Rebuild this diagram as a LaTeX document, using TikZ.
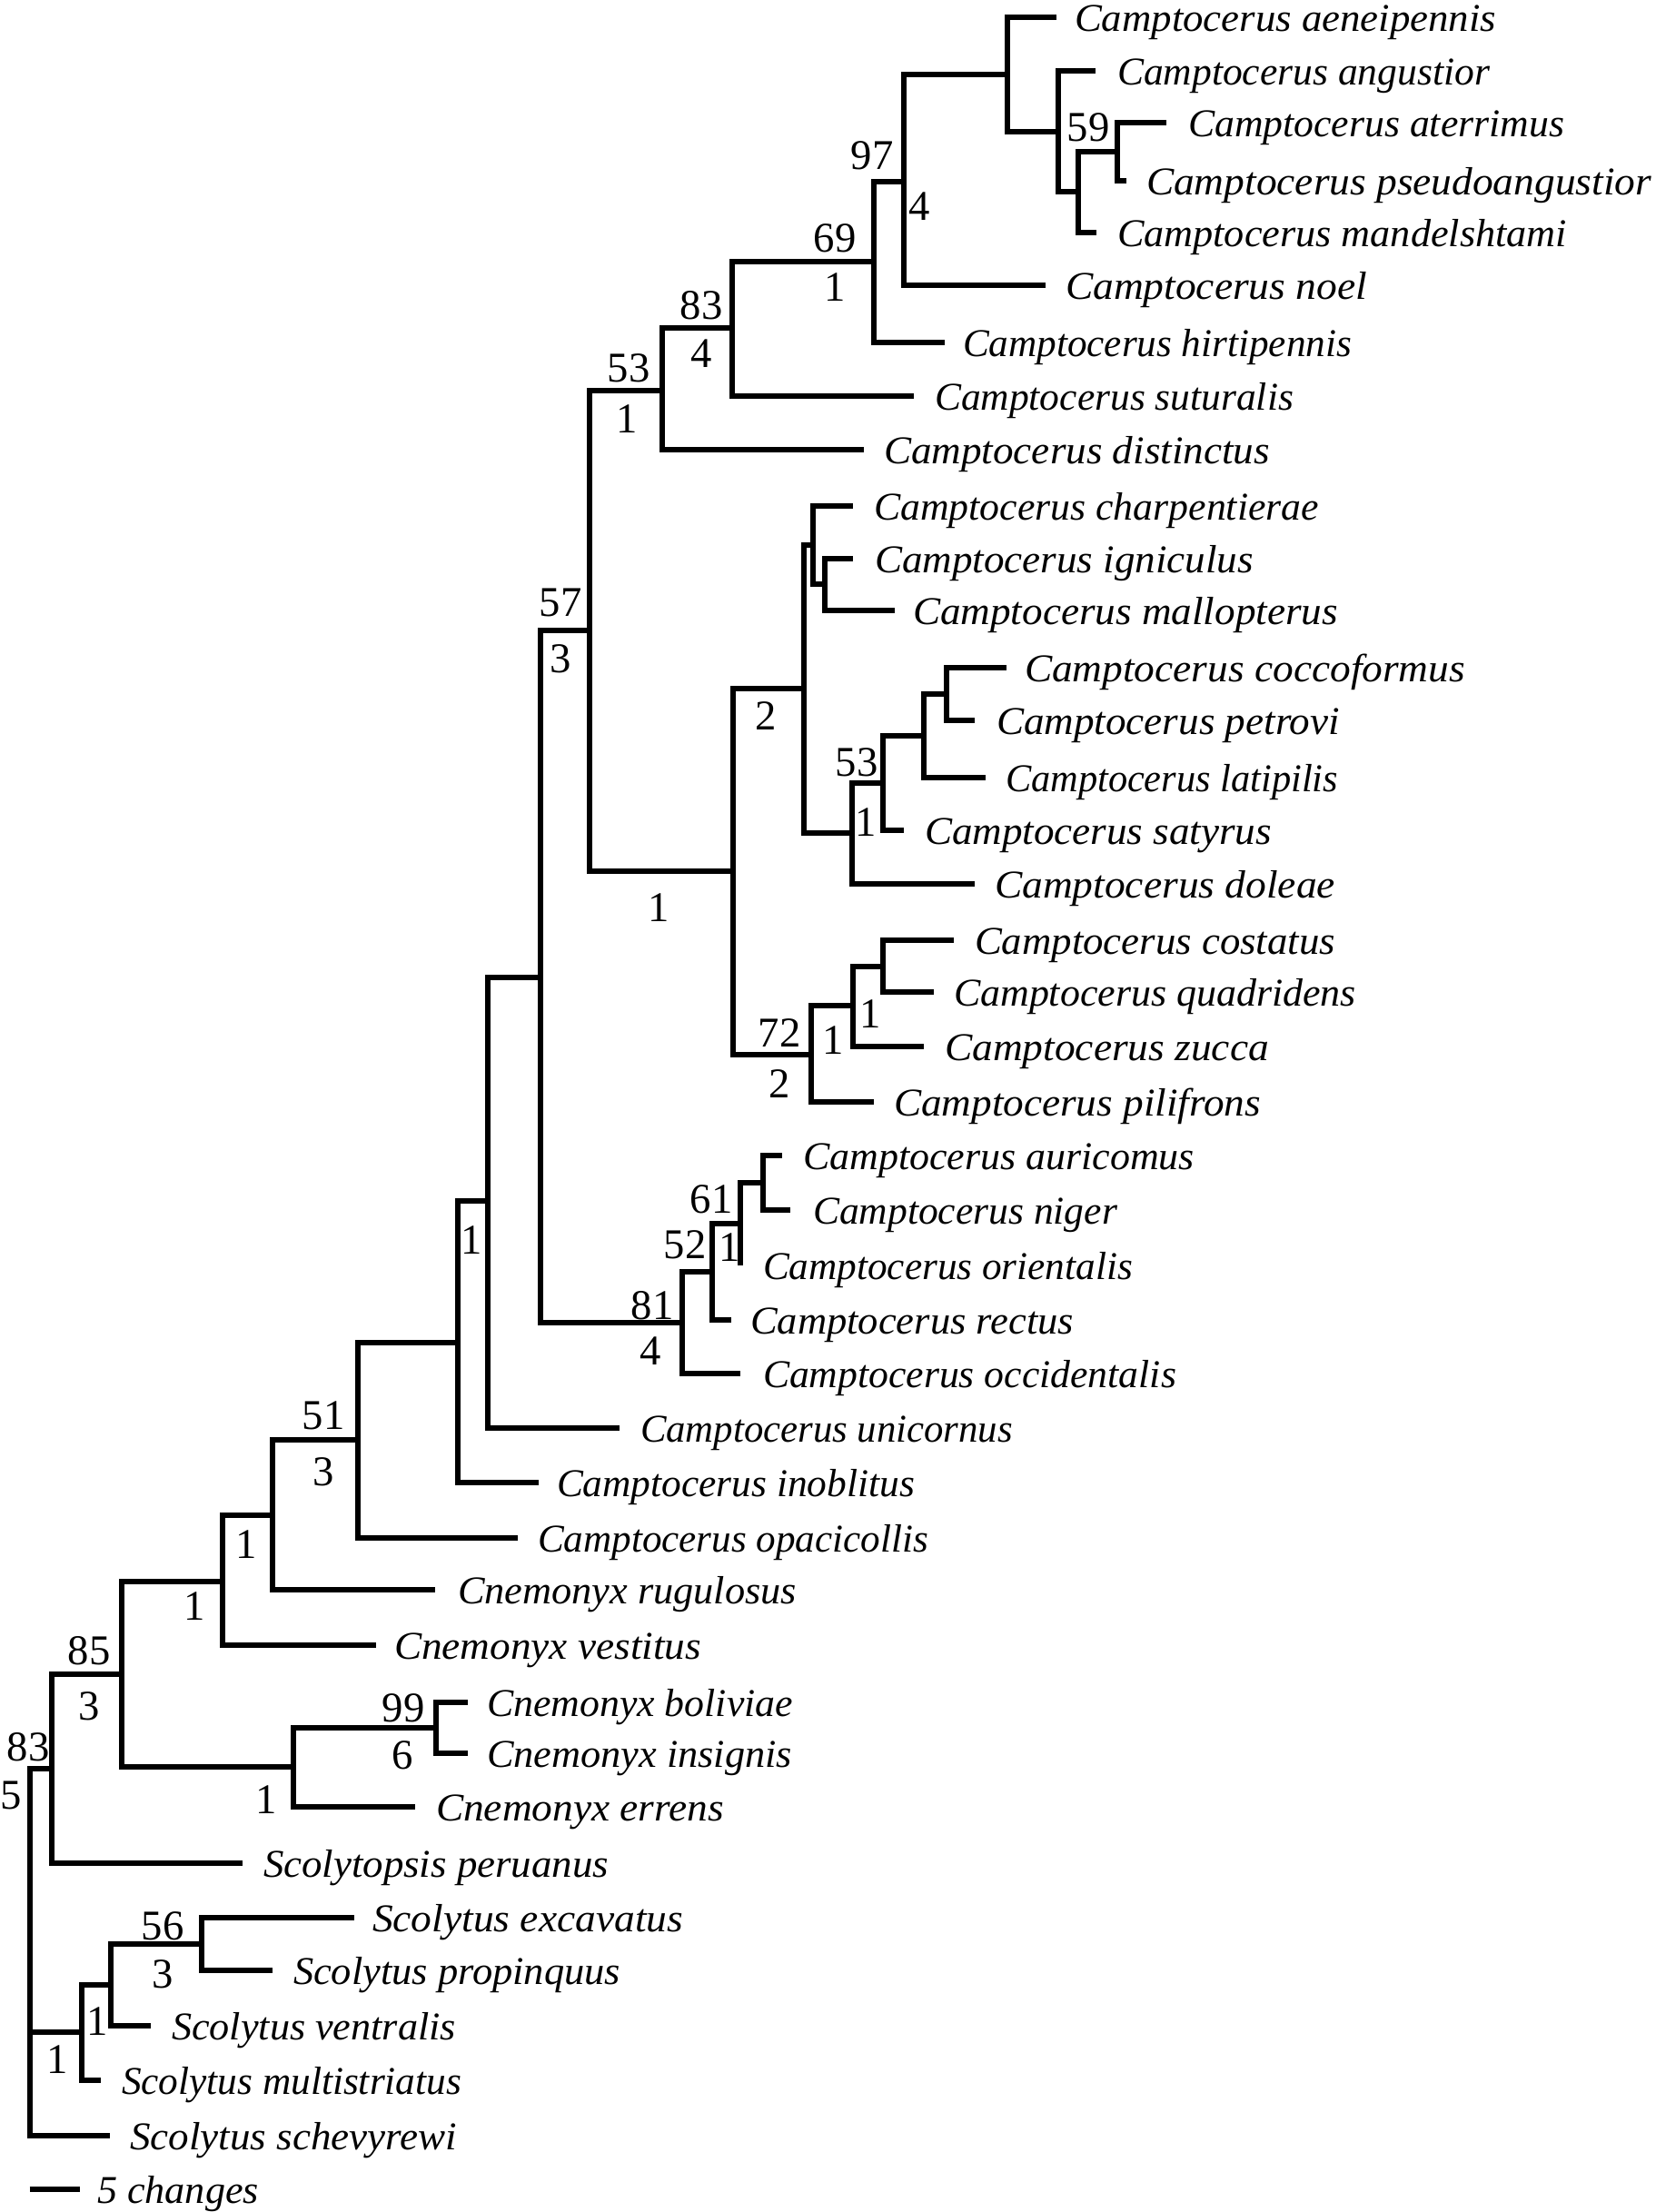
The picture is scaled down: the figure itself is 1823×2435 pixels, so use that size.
\documentclass[tikz,border=0pt]{standalone}
\usepackage{fontspec}
\setmainfont{Liberation Serif}
\usepackage{graphicx}
\newdimen\pxu
\pxu=0.3pt
\newcommand{\taxlab}[2]{\resizebox{#1\pxu}{\height}{\itshape #2}}
\tikzset{
  br/.style={line width=1.8pt, line join=miter, line cap=butt},
  tax/.style={anchor=base west, inner sep=0pt, outer sep=0pt, font=\fontsize{13}{15}\selectfont},
  num/.style={inner sep=0pt, outer sep=0pt, font=\fontsize{14}{16}\selectfont}
}
\begin{document}
\begin{tikzpicture}[x=0.3pt,y=-0.3pt]
\useasboundingbox (0,0) rectangle (1823,2435);
% ---- leaf tips
\coordinate (t1) at (1163,19);
\coordinate (t2) at (1206,78);
\coordinate (t3) at (1284,135);
\coordinate (t4) at (1240,199);
\coordinate (t5) at (1207,256);
\coordinate (t6) at (1151,314);
\coordinate (t7) at (1040,377);
\coordinate (t8) at (1006,436);
\coordinate (t9) at (951,495);
\coordinate (t10) at (939,557);
\coordinate (t11) at (939,615);
\coordinate (t12) at (985,672);
\coordinate (t13) at (1108,735);
\coordinate (t14) at (1073,793);
\coordinate (t15) at (1085,856);
\coordinate (t16) at (995,914);
\coordinate (t17) at (1073,973);
\coordinate (t18) at (1050,1035);
\coordinate (t19) at (1028,1092);
\coordinate (t20) at (1017,1152);
\coordinate (t21) at (962,1213);
\coordinate (t22) at (861,1272);
\coordinate (t23) at (870,1332);
\coordinate (t24) at (815,1393);
\coordinate (t25) at (805,1453);
\coordinate (t26) at (815,1512);
\coordinate (t27) at (682,1572);
\coordinate (t28) at (593,1632);
\coordinate (t29) at (570,1693);
\coordinate (t30) at (479,1750);
\coordinate (t31) at (414,1811);
\coordinate (t32) at (515,1874);
\coordinate (t33) at (515,1930);
\coordinate (t34) at (457,1989);
\coordinate (t35) at (267,2051);
\coordinate (t36) at (390,2111);
\coordinate (t37) at (300,2169);
\coordinate (t38) at (166,2230);
\coordinate (t39) at (111,2290);
\coordinate (t40) at (121,2351);
% ---- internal nodes
\coordinate (a59) at (1230,167);
\coordinate (a1) at (1187,211);
\coordinate (a2) at (1165,145);
\coordinate (a3) at (1109,82);
\coordinate (a97) at (995,200);
\coordinate (a69) at (962,288);
\coordinate (a83) at (806,361);
\coordinate (a53) at (729,430);
\coordinate (b1) at (908,643);
\coordinate (b2) at (895,600);
\coordinate (b3) at (1042,764);
\coordinate (b4) at (1017,810);
\coordinate (b5) at (972,862);
\coordinate (b53) at (938,917);
\coordinate (b6) at (885,758);
\coordinate (c1) at (972,1064);
\coordinate (c2) at (939,1107);
\coordinate (c72) at (893,1161);
\coordinate (b7) at (807,959);
\coordinate (a57) at (649,694);
\coordinate (d1) at (840,1302);
\coordinate (d61) at (815,1347);
\coordinate (d52) at (784,1400);
\coordinate (d81) at (751,1456);
\coordinate (e1) at (595,1076);
\coordinate (e2) at (537,1322);
\coordinate (e3) at (504,1478);
\coordinate (e51) at (394,1585);
\coordinate (f1) at (300,1668);
\coordinate (f2) at (245,1741);
\coordinate (g99) at (480,1902);
\coordinate (g1) at (323,1945);
\coordinate (h85) at (134,1843);
\coordinate (h83) at (57,1947);
\coordinate (s56) at (222,2140);
\coordinate (s1) at (122,2185);
\coordinate (s2) at (90,2237);
\coordinate (root) at (32.5,2237);
% ---- branches
\foreach \p/\c in {a59/t3,a59/t4,a1/a59,a1/t5,a2/t2,a2/a1,a3/t1,a3/a2,a97/a3,a97/t6,
  a69/a97,a69/t7,a83/a69,a83/t8,a53/a83,a53/t9,
  b1/t11,b1/t12,b2/t10,b2/b1,b3/t13,b3/t14,b4/b3,b4/t15,b5/b4,b5/t16,b53/b5,b53/t17,
  b6/b2,b6/b53,c1/t18,c1/t19,c2/c1,c2/t20,c72/c2,c72/t21,b7/b6,b7/c72,a57/a53,a57/b7,
  d1/t22,d1/t23,d61/d1,d61/t24,d52/d61,d52/t25,d81/d52,d81/t26,e1/a57,e1/d81,
  e2/e1,e2/t27,e3/e2,e3/t28,e51/e3,e51/t29,f1/e51,f1/t30,f2/f1,f2/t31,
  g99/t32,g99/t33,g1/g99,g1/t34,h85/f2,h85/g1,h83/h85,h83/t35,
  s56/t36,s56/t37,s1/s56,s1/t38,s2/s1,s2/t39,root/h83,root/s2,root/t40}
  \draw[br] (\p) |- (\c);
% ---- taxon labels
\node[tax] (l1) at (1183,34) {\taxlab{464}{Camptocerus aeneipennis}};
\node[tax] (l2) at (1230,93) {\taxlab{410}{Camptocerus angustior}};
\node[tax] (l3) at (1308,150) {\taxlab{414}{Camptocerus aterrimus}};
\node[tax] (l4) at (1262,214) {\taxlab{556}{Camptocerus pseudoangustior}};
\node[tax] (l5) at (1230,271) {\taxlab{495}{Camptocerus mandelshtami}};
\node[tax] (l6) at (1173,329) {\taxlab{332}{Camptocerus noel}};
\node[tax] (l7) at (1060,392) {\taxlab{428}{Camptocerus hirtipennis}};
\node[tax] (l8) at (1029,451) {\taxlab{395}{Camptocerus suturalis}};
\node[tax] (l9) at (973,510) {\taxlab{425}{Camptocerus distinctus}};
\node[tax] (l10) at (962,572) {\taxlab{490}{Camptocerus charpentierae}};
\node[tax] (l11) at (963,630) {\taxlab{417}{Camptocerus igniculus}};
\node[tax] (l12) at (1005,687) {\taxlab{468}{Camptocerus mallopterus}};
\node[tax] (l13) at (1128,750) {\taxlab{485}{Camptocerus coccoformus}};
\node[tax] (l14) at (1097,808) {\taxlab{378}{Camptocerus petrovi}};
\node[tax] (l15) at (1107,871) {\taxlab{366}{Camptocerus latipilis}};
\node[tax] (l16) at (1018,929) {\taxlab{382}{Camptocerus satyrus}};
\node[tax] (l17) at (1095,988) {\taxlab{375}{Camptocerus doleae}};
\node[tax] (l18) at (1073,1050) {\taxlab{397}{Camptocerus costatus}};
\node[tax] (l19) at (1050,1107) {\taxlab{443}{Camptocerus quadridens}};
\node[tax] (l20) at (1040,1167) {\taxlab{357}{Camptocerus zucca}};
\node[tax] (l21) at (984,1228) {\taxlab{404}{Camptocerus pilifrons}};
\node[tax] (l22) at (884,1287) {\taxlab{431}{Camptocerus auricomus}};
\node[tax] (l23) at (895,1347) {\taxlab{335}{Camptocerus niger}};
\node[tax] (l24) at (840,1408) {\taxlab{407}{Camptocerus orientalis}};
\node[tax] (l25) at (826,1468) {\taxlab{356}{Camptocerus rectus}};
\node[tax] (l26) at (840,1527) {\taxlab{455}{Camptocerus occidentalis}};
\node[tax] (l27) at (705,1587) {\taxlab{410}{Camptocerus unicornus}};
\node[tax] (l28) at (613,1647) {\taxlab{394}{Camptocerus inoblitus}};
\node[tax] (l29) at (592,1708) {\taxlab{430}{Camptocerus opacicollis}};
\node[tax] (l30) at (504,1765) {\taxlab{373}{Cnemonyx rugulosus}};
\node[tax] (l31) at (434,1826) {\taxlab{338}{Cnemonyx vestitus}};
\node[tax] (l32) at (536,1889) {\taxlab{337}{Cnemonyx boliviae}};
\node[tax] (l33) at (536,1945) {\taxlab{336}{Cnemonyx insignis}};
\node[tax] (l34) at (480,2004) {\taxlab{317}{Cnemonyx errens}};
\node[tax] (l35) at (290,2066) {\taxlab{380}{Scolytopsis peruanus}};
\node[tax] (l36) at (410,2126) {\taxlab{342}{Scolytus excavatus}};
\node[tax] (l37) at (323,2184) {\taxlab{360}{Scolytus propinquus}};
\node[tax] (l38) at (189,2245) {\taxlab{313}{Scolytus ventralis}};
\node[tax] (l39) at (134,2305) {\taxlab{374}{Scolytus multistriatus}};
\node[tax] (l40) at (143,2366) {\taxlab{360}{Scolytus schevyrewi}};
% ---- support / branch-length labels
\node[num] (n97) at (960,171) {97};
\node[num] (n97b) at (1012,227) {4};
\node[num] (n59) at (1198,140) {59};
\node[num] (n69) at (919,262) {69};
\node[num] (n69b) at (919,316) {1};
\node[num] (n83) at (772,336) {83};
\node[num] (n83b) at (772,389) {4};
\node[num] (n53) at (692,405) {53};
\node[num] (n53b) at (690,461) {1};
\node[num] (n57) at (617,663) {57};
\node[num] (n57b) at (617,725) {3};
\node[num] (nb6) at (843,788) {2};
\node[num] (nb53) at (943,839) {53};
\node[num] (nb53b) at (953,905) {1};
\node[num] (nb7) at (725,999) {1};
\node[num] (nc72) at (858,1137) {72};
\node[num] (nc72b) at (858,1193) {2};
\node[num] (nc2) at (917,1145) {1};
\node[num] (nc1) at (958,1116) {1};
\node[num] (nd61) at (783,1320) {61};
\node[num] (nd52) at (754,1370) {52};
\node[num] (nd61b) at (803,1373) {1};
\node[num] (nd81) at (718,1437) {81};
\node[num] (nd81b) at (716,1487) {4};
\node[num] (ne2) at (519,1365) {1};
\node[num] (ne51) at (356,1558) {51};
\node[num] (ne51b) at (356,1620) {3};
\node[num] (nf1) at (271,1700) {1};
\node[num] (nf2) at (214,1768) {1};
\node[num] (nh85) at (98,1817) {85};
\node[num] (nh85b) at (98,1878) {3};
\node[num] (ng99) at (444,1880) {99};
\node[num] (ng99b) at (443,1932) {6};
\node[num] (ng1) at (293,1981) {1};
\node[num] (nh83) at (31,1923) {83};
\node[num] (nh83b) at (12,1976) {5};
\node[num] (ns56) at (179,2120) {56};
\node[num] (ns56b) at (179,2173) {3};
\node[num] (ns1) at (107,2225) {1};
\node[num] (ns2) at (63,2267) {1};
% ---- scale bar
\coordinate (sb1) at (32.5,2410);
\coordinate (sb2) at (88,2410);
\draw[br] (sb1) -- (sb2);
\node[tax] (sbl) at (107,2425) {\taxlab{178}{5 changes}};
\end{tikzpicture}
\end{document}
